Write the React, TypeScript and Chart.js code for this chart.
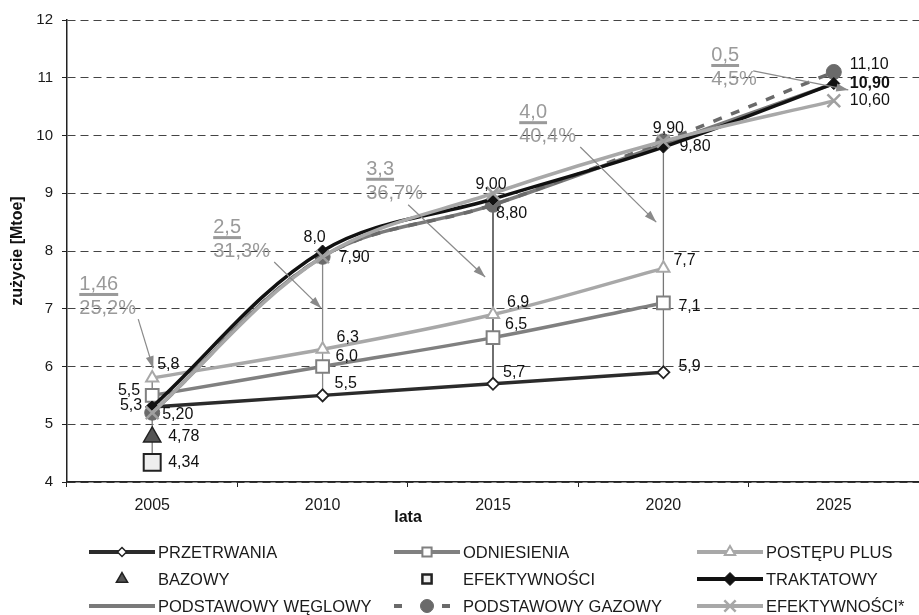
import React, { useEffect, useRef } from 'react';
import { Chart, registerables } from 'chart.js';
import { drawPoint } from 'chart.js/helpers';

Chart.register(...registerables);

const FONT = "'Liberation Sans', Arial, sans-serif";

const years = ['2005', '2010', '2015', '2020', '2025'];

const przetrwania = [5.3, 5.5, 5.7, 5.9, null];
const odniesienia = [5.5, 6.0, 6.5, 7.1, null];
const postepuPlus = [5.8, 6.3, 6.9, 7.7, null];
const bazowy = [4.78, null, null, null, null];
const efektywnosci = [4.34, null, null, null, null];
const traktatowy = [5.3, 8.0, 8.9, 9.8, 10.9];
const weglowy = [5.2, 7.9, 8.8, 9.85, 10.9];
const gazowy = [5.2, 7.9, 8.8, 9.9, 11.1];
const efektywnosciStar = [5.2, 7.9, 9.0, 9.9, 10.6];

// value labels: category index, value, text
const labelIdx = [0, 0, 0, 0, 0, 0, 1, 1, 1, 1, 1, 2, 2, 2, 2, 2, 3, 3, 3, 3, 3, 4, 4, 4];
const labelVal = [5.8, 5.5, 5.3, 5.2, 4.78, 4.34, 8.0, 7.9, 6.3, 6.0, 5.5, 9.0, 8.8, 6.9, 6.5, 5.7, 9.9, 9.8, 7.7, 7.1, 5.9, 11.1, 10.9, 10.6];
const labelText = ['5,8', '5,5', '5,3', '5,20', '4,78', '4,34', '8,0', '7,90', '6,3', '6,0', '5,5', '9,00', '8,80', '6,9', '6,5', '5,7', '9,90', '9,80', '7,7', '7,1', '5,9', '11,10', '10,90', '10,60'];
// label placement (px offsets, alignment)
const labelPlace: [number, number, CanvasTextAlign, boolean?][] = [
  [5, -13, 'left'], [-12, -5, 'right'], [-10, -1, 'right'], [10, 2, 'left'], [16, 0, 'left'], [16, 0, 'left'],
  [-8, -13, 'center'], [16, 1, 'left'], [14, -12, 'left'], [13, -10, 'left'], [12, -12, 'left'],
  [-2, -9, 'center'], [3, 9, 'left'], [14, -12, 'left'], [12, -13, 'left'], [10, -11, 'left'],
  [5, -13, 'center'], [16, 0, 'left'], [10, -8, 'left'], [15, 4, 'left'], [15, -6, 'left'],
  [16, -7, 'left'], [16, 0, 'left', true], [16, 0, 'left'],
];

// difference annotations
const annTop = ['1,46', '2,5', '3,3', '4,0', '0,5'];
const annBottom = ['25,2%', '31,3%', '36,7%', '40,4%', '4,5%'];
// anchor (category index, value) of the first text line baseline-left
const annAt = [[-0.428, 7.325], [0.358, 8.31], [1.256, 9.32], [2.154, 10.30], [3.281, 11.29]];
const annFrom = [[-0.082, 6.82], [0.716, 7.81], [1.502, 8.80], [2.512, 9.80], [3.527, 11.12]];
const annTo = [[0.006, 5.97], [0.992, 7.01], [1.954, 7.55], [2.958, 8.50], [4.085, 10.79]];

// vertical connectors
const connIdx = [0, 1, 2, 3];
const connFrom = [5.8, 7.9, 8.8, 9.8];
const connTo = [4.34, 5.5, 5.7, 5.9];
const connColor = ['#777', '#888', '#222', '#777'];

type LegendItem = {
  label: string; line?: string; dash?: number[]; point?: string; r?: number;
  fill?: string; stroke?: string; bw?: number;
};
const legendItems: LegendItem[] = [
  { label: 'PRZETRWANIA', line: '#2b2b2b', point: 'rectRot', r: 4.5, fill: '#fff', stroke: '#222', bw: 1.5 },
  { label: 'ODNIESIENIA', line: '#808080', point: 'rect', r: 6.5, fill: '#fff', stroke: '#808080', bw: 2 },
  { label: 'POSTĘPU PLUS', line: '#a8a8a8', point: 'triangle', r: 6, fill: '#fff', stroke: '#a8a8a8', bw: 2 },
  { label: 'BAZOWY', point: 'triangle', r: 6.5, fill: '#555', stroke: '#222', bw: 1.5 },
  { label: 'EFEKTYWNOŚCI', point: 'rect', r: 6.5, fill: '#eee', stroke: '#222', bw: 2.5 },
  { label: 'TRAKTATOWY', line: '#111', point: 'rectRot', r: 6.5, fill: '#111', stroke: '#111', bw: 1 },
  { label: 'PODSTAWOWY WĘGLOWY', line: '#7a7a7a' },
  { label: 'PODSTAWOWY GAZOWY', line: '#6a6a6a', dash: [8, 40], point: 'circle', r: 6.5, fill: '#6a6a6a', stroke: '#6a6a6a', bw: 1 },
  { label: 'EFEKTYWNOŚCI*', line: '#a8a8a8', point: 'crossRot', r: 8, fill: '#a8a8a8', stroke: '#a8a8a8', bw: 2.5 },
];
const legendLineStart = [89, 394, 697];
const legendLineEnd = [155, 460, 763];
const legendTextX = [158, 463, 766];
const legendRowY = [552, 579, 606];

const overlay = {
  id: 'overlay',
  beforeDatasetsDraw(chart: any) {
    const { ctx, scales: { x, y } } = chart;
    connIdx.forEach((ci, k) => {
      ctx.save();
      ctx.strokeStyle = connColor[k];
      ctx.lineWidth = 1.3;
      ctx.beginPath();
      ctx.moveTo(x.getPixelForValue(ci), y.getPixelForValue(connFrom[k]));
      ctx.lineTo(x.getPixelForValue(ci), y.getPixelForValue(connTo[k]));
      ctx.stroke();
      ctx.restore();
    });
  },
  afterDatasetsDraw(chart: any) {
    const { ctx, scales: { x, y } } = chart;
    ctx.save();
    ctx.textBaseline = 'middle';
    ctx.fillStyle = '#111';
    labelText.forEach((t, k) => {
      const [dx, dy, align, bold] = labelPlace[k];
      ctx.font = `${bold ? 'bold ' : ''}16px ${FONT}`;
      ctx.textAlign = align;
      ctx.fillText(t, x.getPixelForValue(labelIdx[k]) + dx, y.getPixelForValue(labelVal[k]) + dy);
    });
    ctx.restore();

    // annotations
    ctx.save();
    annTop.forEach((t, k) => {
      const ax = x.getPixelForValue(annAt[k][0]);
      const ay = y.getPixelForValue(annAt[k][1]);
      ctx.font = `20px ${FONT}`;
      ctx.fillStyle = '#9a9a9a';
      ctx.textAlign = 'left';
      ctx.textBaseline = 'alphabetic';
      ctx.fillText(t, ax, ay);
      const w = ctx.measureText(t).width;
      ctx.fillRect(ax, ay + 3, w, 3);
      ctx.fillText(annBottom[k], ax, ay + 24);
      // arrow
      const x1 = x.getPixelForValue(annFrom[k][0]);
      const y1 = y.getPixelForValue(annFrom[k][1]);
      const x2 = x.getPixelForValue(annTo[k][0]);
      const y2 = y.getPixelForValue(annTo[k][1]);
      ctx.strokeStyle = '#8a8a8a';
      ctx.fillStyle = '#8a8a8a';
      ctx.lineWidth = 1.2;
      ctx.beginPath();
      ctx.moveTo(x1, y1);
      ctx.lineTo(x2, y2);
      ctx.stroke();
      const ang = Math.atan2(y2 - y1, x2 - x1);
      const L = 12, H = 4;
      ctx.beginPath();
      ctx.moveTo(x2, y2);
      ctx.lineTo(x2 - L * Math.cos(ang) + H * Math.sin(ang), y2 - L * Math.sin(ang) - H * Math.cos(ang));
      ctx.lineTo(x2 - L * Math.cos(ang) - H * Math.sin(ang), y2 - L * Math.sin(ang) + H * Math.cos(ang));
      ctx.closePath();
      ctx.fill();
    });
    ctx.restore();
  },
  afterDraw(chart: any) {
    const { ctx } = chart;
    ctx.save();
    // axis titles
    ctx.fillStyle = '#111';
    ctx.font = `bold 16px ${FONT}`;
    ctx.textAlign = 'center';
    ctx.textBaseline = 'middle';
    ctx.fillText('lata', 408, 518);
    ctx.save();
    ctx.translate(18, 251);
    ctx.rotate(-Math.PI / 2);
    ctx.fillText('zużycie [Mtoe]', 0, 0);
    ctx.restore();

    // legend
    legendItems.forEach((it, k) => {
      const col = k % 3;
      const row = Math.floor(k / 3);
      const yy = legendRowY[row];
      const xs = legendLineStart[col];
      const xe = legendLineEnd[col];
      if (it.line) {
        ctx.save();
        ctx.strokeStyle = it.line;
        ctx.lineWidth = 4;
        ctx.setLineDash(it.dash || []);
        ctx.beginPath();
        ctx.moveTo(xs, yy);
        ctx.lineTo(xe, yy);
        ctx.stroke();
        ctx.restore();
      }
      if (it.point) {
        ctx.save();
        ctx.fillStyle = it.fill;
        ctx.strokeStyle = it.stroke;
        ctx.lineWidth = it.bw;
        drawPoint(ctx, { pointStyle: it.point as any, radius: it.r, rotation: 0, borderWidth: it.bw }, (xs + xe) / 2, yy);
        ctx.restore();
      }
      ctx.fillStyle = '#1a1a1a';
      ctx.font = `16.5px ${FONT}`;
      ctx.textAlign = 'left';
      ctx.textBaseline = 'middle';
      ctx.fillText(it.label, legendTextX[col], yy + 1);
    });
    ctx.restore();
  },
};

export default function App() {
  const ref = useRef<HTMLCanvasElement>(null);
  useEffect(() => {
    if (!ref.current) return;
    const lineBase = { tension: 0.35, borderWidth: 3.5, spanGaps: false };
    const chart = new Chart(ref.current, {
      type: 'line',
      data: {
        labels: years,
        datasets: [
          { ...lineBase, label: 'EFEKTYWNOŚCI*', data: efektywnosciStar, borderColor: '#a8a8a8', pointStyle: 'crossRot', pointRadius: 9, pointBorderWidth: 2.5, pointBorderColor: '#a0a0a0', pointBackgroundColor: '#a0a0a0' },
          { ...lineBase, label: 'TRAKTATOWY', data: traktatowy, borderColor: '#111', pointStyle: 'rectRot', pointRadius: 6, pointBorderWidth: 1, pointBorderColor: '#111', pointBackgroundColor: '#111' },
          { ...lineBase, label: 'PODSTAWOWY GAZOWY', data: gazowy, borderColor: '#6a6a6a', borderDash: [9, 10], pointStyle: 'circle', pointRadius: 7.5, pointBorderWidth: 1, pointBorderColor: '#6a6a6a', pointBackgroundColor: '#6a6a6a' },
          { ...lineBase, label: 'PODSTAWOWY WĘGLOWY', data: weglowy, borderColor: '#7a7a7a', pointRadius: 0 },
          { label: 'BAZOWY', data: bazowy, showLine: false, pointStyle: 'triangle', pointRadius: 10, pointBorderWidth: 1.5, pointBorderColor: '#222', pointBackgroundColor: '#555', borderColor: '#222' },
          { label: 'EFEKTYWNOŚCI', data: efektywnosci, showLine: false, pointStyle: 'rect', pointRadius: 12, pointBorderWidth: 2, pointBorderColor: '#222', pointBackgroundColor: '#eee', borderColor: '#222' },
          { ...lineBase, label: 'POSTĘPU PLUS', data: postepuPlus, borderColor: '#a8a8a8', pointStyle: 'triangle', pointRadius: 7, pointBorderWidth: 2, pointBorderColor: '#a8a8a8', pointBackgroundColor: '#fff' },
          { ...lineBase, label: 'ODNIESIENIA', data: odniesienia, borderColor: '#808080', pointStyle: 'rect', pointRadius: 9, pointBorderWidth: 2, pointBorderColor: '#808080', pointBackgroundColor: '#fff' },
          { ...lineBase, label: 'PRZETRWANIA', data: przetrwania, borderColor: '#2b2b2b', pointStyle: 'rectRot', pointRadius: 6, pointBorderWidth: 1.8, pointBorderColor: '#222', pointBackgroundColor: '#fff' },
        ],
      },
      options: {
        responsive: false,
        devicePixelRatio: 1,
        animation: false,
        layout: { autoPadding: false, padding: { top: 20, left: 0, right: 0, bottom: 0 } },
        plugins: { legend: { display: false }, tooltip: { enabled: false } },
        scales: {
          x: {
            offset: true,
            grid: { offset: true, drawOnChartArea: false, tickLength: 5, color: '#222', tickColor: '#222' },
            border: { color: '#222', width: 1.5 },
            ticks: { color: '#1a1a1a', font: { family: FONT, size: 16 }, padding: 9 },
            afterFit: (s: any) => { s.height = 133; s.paddingLeft = 0; s.paddingRight = 0; },
          },
          y: {
            min: 4,
            max: 12,
            grid: { color: '#444', lineWidth: 1, tickLength: 5, tickColor: '#222' },
            border: { color: '#222', width: 1.5, dash: [8, 5] },
            ticks: { stepSize: 1, color: '#1a1a1a', font: { family: FONT, size: 15 }, padding: 9 },
            afterFit: (s: any) => { s.width = 67; s.paddingTop = 0; s.paddingBottom = 0; },
          },
        },
      },
      plugins: [overlay],
    });
    return () => chart.destroy();
  }, []);
  return (
    <div style={{ position: 'fixed', left: 0, top: 0, width: 919, height: 615, background: '#fff' }}>
      <canvas ref={ref} width={919} height={615} />
    </div>
  );
}
